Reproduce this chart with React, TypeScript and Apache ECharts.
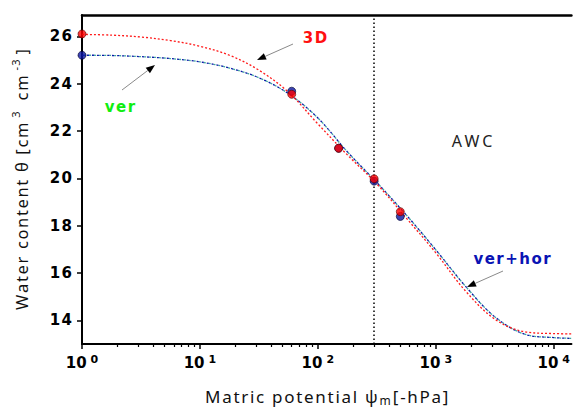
import React, { useEffect, useRef } from 'react';
import * as echarts from 'echarts';

// Fitted retention curves (pressure head in -hPa)
const curveX = [1, 1.778, 3.162, 5.623, 10, 17.78, 31.62, 56.23, 100, 177.8, 316.2, 562.3, 1000, 1778, 3162, 5623, 10000, 14125];
const curve3D = [26.08, 26.05, 25.97, 25.82, 25.58, 25.2, 24.57, 23.64, 22.3, 20.99, 19.76, 18.32, 16.85, 15.25, 14.05, 13.52, 13.44, 13.43];
const curveVer = [25.2, 25.19, 25.14, 25.06, 24.92, 24.66, 24.25, 23.58, 22.55, 21.12, 19.82, 18.45, 16.98, 15.45, 14.15, 13.42, 13.27, 13.24];
const curveVerHor = [25.2, 25.19, 25.14, 25.06, 24.92, 24.66, 24.25, 23.58, 22.55, 21.12, 19.82, 18.45, 16.98, 15.45, 14.15, 13.42, 13.27, 13.24];

// Measured points
const pointsX = [1, 60, 150, 300, 500];
const points3D = [26.1, 23.55, 21.27, 19.98, 18.59];
const pointsVerHor = [25.2, 23.68, 21.27, 19.88, 18.39];

// Axis ticks
const xMajorTicks = [1, 10, 100, 1000, 10000];
const xMinorTicks = [2, 3, 4, 5, 6, 7, 8, 9, 20, 30, 40, 50, 60, 70, 80, 90, 200, 300, 400, 500, 600, 700, 800, 900, 2000, 3000, 4000, 5000, 6000, 7000, 8000, 9000];
const yTicks = [14, 16, 18, 20, 22, 24, 26];
const fieldCapacity = 300;

const sp = (s: string, gap = '\u200A') => Array.from(s).join(gap);

function arrow(from: number[], to: number[]) {
  const dx = to[0] - from[0];
  const dy = to[1] - from[1];
  const len = Math.sqrt(dx * dx + dy * dy);
  const ux = dx / len, uy = dy / len;
  const hl = 9, hw = 3.5;
  const bx = to[0] - ux * hl, by = to[1] - uy * hl;
  return [
    { type: 'line', shape: { x1: from[0], y1: from[1], x2: bx, y2: by }, style: { stroke: '#8a8a8a', lineWidth: 1 }, silent: true },
    {
      type: 'polygon',
      shape: { points: [[to[0], to[1]], [bx - uy * hw, by + ux * hw], [bx + uy * hw, by - ux * hw]] },
      style: { fill: '#000' }, silent: true,
    },
  ];
}

export default function App() {
  const ref = useRef<HTMLDivElement>(null);
  useEffect(() => {
    if (!ref.current) return;
    const chart = echarts.init(ref.current, null, { renderer: 'svg' });
    const zip = (xs: number[], ys: number[]) => xs.map((x, i) => [x, ys[i]]);
    const tickFont = 'DejaVu Sans';
    const titleFont = 'Noto Sans';
    chart.setOption({
      animation: false,
      backgroundColor: '#fff',
      grid: { left: 82, top: 15, right: 0, bottom: 67, containLabel: false },
      xAxis: [
        {
          type: 'log', logBase: 10, min: 1, max: 14125, position: 'bottom',
          axisLine: { show: true, lineStyle: { color: '#000', width: 2 } },
          axisTick: { show: true, customValues: xMajorTicks, length: 5, lineStyle: { color: '#000', width: 1.5 } },
          splitLine: { show: false },
          axisLabel: {
            show: true, customValues: xMajorTicks, margin: 10,
            formatter: (v: number) => `{b|10}{s|${Math.round(Math.log10(v))}}`,
            rich: {
              b: { fontFamily: tickFont, fontWeight: 'bold', fontSize: 15, color: '#000', lineHeight: 18 },
              s: { fontFamily: tickFont, fontWeight: 'bold', fontSize: 11, color: '#000', verticalAlign: 'top', lineHeight: 12, padding: [0, 0, 0, 4] },
            },
          },
          name: `{t|${sp('Matric potential ψ')}}{sub|m}{t|${sp('[-hPa]')}}`,
          nameLocation: 'middle', nameGap: 42,
          nameTextStyle: {
            rich: {
              t: { fontFamily: titleFont, fontSize: 17, color: '#111', lineHeight: 20, verticalAlign: 'middle' },
              sub: { fontFamily: titleFont, fontSize: 12, color: '#111', verticalAlign: 'bottom', lineHeight: 10, padding: [8, 2, 0, 2] },
            },
          },
        },
        {
          type: 'log', logBase: 10, min: 1, max: 14125, position: 'bottom',
          axisLine: { show: false },
          axisTick: { show: true, customValues: xMinorTicks, length: 3, lineStyle: { color: '#000', width: 1.2 } },
          axisLabel: { show: false },
          splitLine: { show: false },
        },
        {
          type: 'log', logBase: 10, min: 1, max: 14125, position: 'top',
          axisLine: { show: true, lineStyle: { color: '#000', width: 2.5 } },
          axisTick: { show: false }, axisLabel: { show: false }, splitLine: { show: false },
        },
      ],
      yAxis: {
        type: 'value', min: 13, max: 26.9,
        axisLine: { show: true, lineStyle: { color: '#000', width: 2 } },
        axisTick: { show: true, customValues: yTicks, length: 5, lineStyle: { color: '#000', width: 1.5 } },
        splitLine: { show: false },
        axisLabel: {
          customValues: yTicks, margin: 10,
          formatter: (v: number) => sp(String(v)),
          fontFamily: tickFont, fontWeight: 'bold', fontSize: 15, color: '#000',
        },
        name: `{t|${sp('Water content θ [cm')}}{s|3}{t|${sp(' cm')}}{s|${sp('-3')}}{t|]}`,
        nameLocation: 'middle', nameGap: 50, nameRotate: 90,
        nameTextStyle: {
          rich: {
            t: { fontFamily: titleFont, fontSize: 16.5, color: '#111', lineHeight: 22 },
            s: { fontFamily: titleFont, fontSize: 11, color: '#111', verticalAlign: 'top', lineHeight: 12, padding: [0, 5, 0, 5] },
          },
        },
      },
      series: [
        {
          name: 'ver', type: 'line', xAxisIndex: 0, data: zip(curveX, curveVer), smooth: 0.35, showSymbol: false,
          lineStyle: { color: '#3fa7a0', width: 1.3, type: [2, 3], dashOffset: 2.5 }, z: 2,
        },
        {
          name: 'ver+hor', type: 'line', xAxisIndex: 0, data: zip(curveX, curveVerHor), smooth: 0.35, showSymbol: false,
          lineStyle: { color: '#0a1aa8', width: 1.3, type: [2, 3] }, z: 3,
          markLine: {
            silent: true, symbol: ['none', 'none'], label: { show: false },
            lineStyle: { color: '#000', width: 1.5, type: [1.5, 2.5] },
            data: [{ xAxis: fieldCapacity }],
          },
        },
        {
          name: '3D', type: 'line', xAxisIndex: 0, data: zip(curveX, curve3D), smooth: 0.35, showSymbol: false,
          lineStyle: { color: '#ff1a1a', width: 1.3, type: [2, 2] }, z: 4,
        },
        {
          name: 'ver+hor points', type: 'scatter', xAxisIndex: 0, data: zip(pointsX, pointsVerHor), symbolSize: 8,
          itemStyle: { color: '#0a14a0', borderColor: '#00002a', borderWidth: 0.8 }, z: 5,
        },
        {
          name: '3D points', type: 'scatter', xAxisIndex: 0, data: zip(pointsX, points3D), symbolSize: 8,
          itemStyle: { color: '#ff0000', borderColor: '#5a0000', borderWidth: 0.8 }, z: 6,
        },
      ],
      graphic: [
        ...arrow([293, 44], [257, 60]),
        ...arrow([122, 90], [155, 65]),
        ...arrow([503, 271], [467, 287]),
        { type: 'text', x: 315, y: 38, style: { text: sp('3D'), fill: '#ff1010', font: 'bold 15px "DejaVu Sans"', align: 'center', verticalAlign: 'middle' }, silent: true },
        { type: 'text', x: 120, y: 107, style: { text: sp('ver'), fill: '#10ee10', font: 'bold 15px "DejaVu Sans"', align: 'center', verticalAlign: 'middle' }, silent: true },
        { type: 'text', x: 512, y: 259, style: { text: sp('ver+hor'), fill: '#0a14b4', font: 'bold 15px "DejaVu Sans"', align: 'center', verticalAlign: 'middle' }, silent: true },
        { type: 'text', x: 472, y: 141, style: { text: sp('AWC', '\u2009'), fill: '#222', font: '16px "Noto Sans"', align: 'center', verticalAlign: 'middle' }, silent: true },
      ],
    });
    return () => chart.dispose();
  }, []);
  return <div ref={ref} style={{ position: 'fixed', left: 0, top: 0, width: 573, height: 411 }} />;
}
